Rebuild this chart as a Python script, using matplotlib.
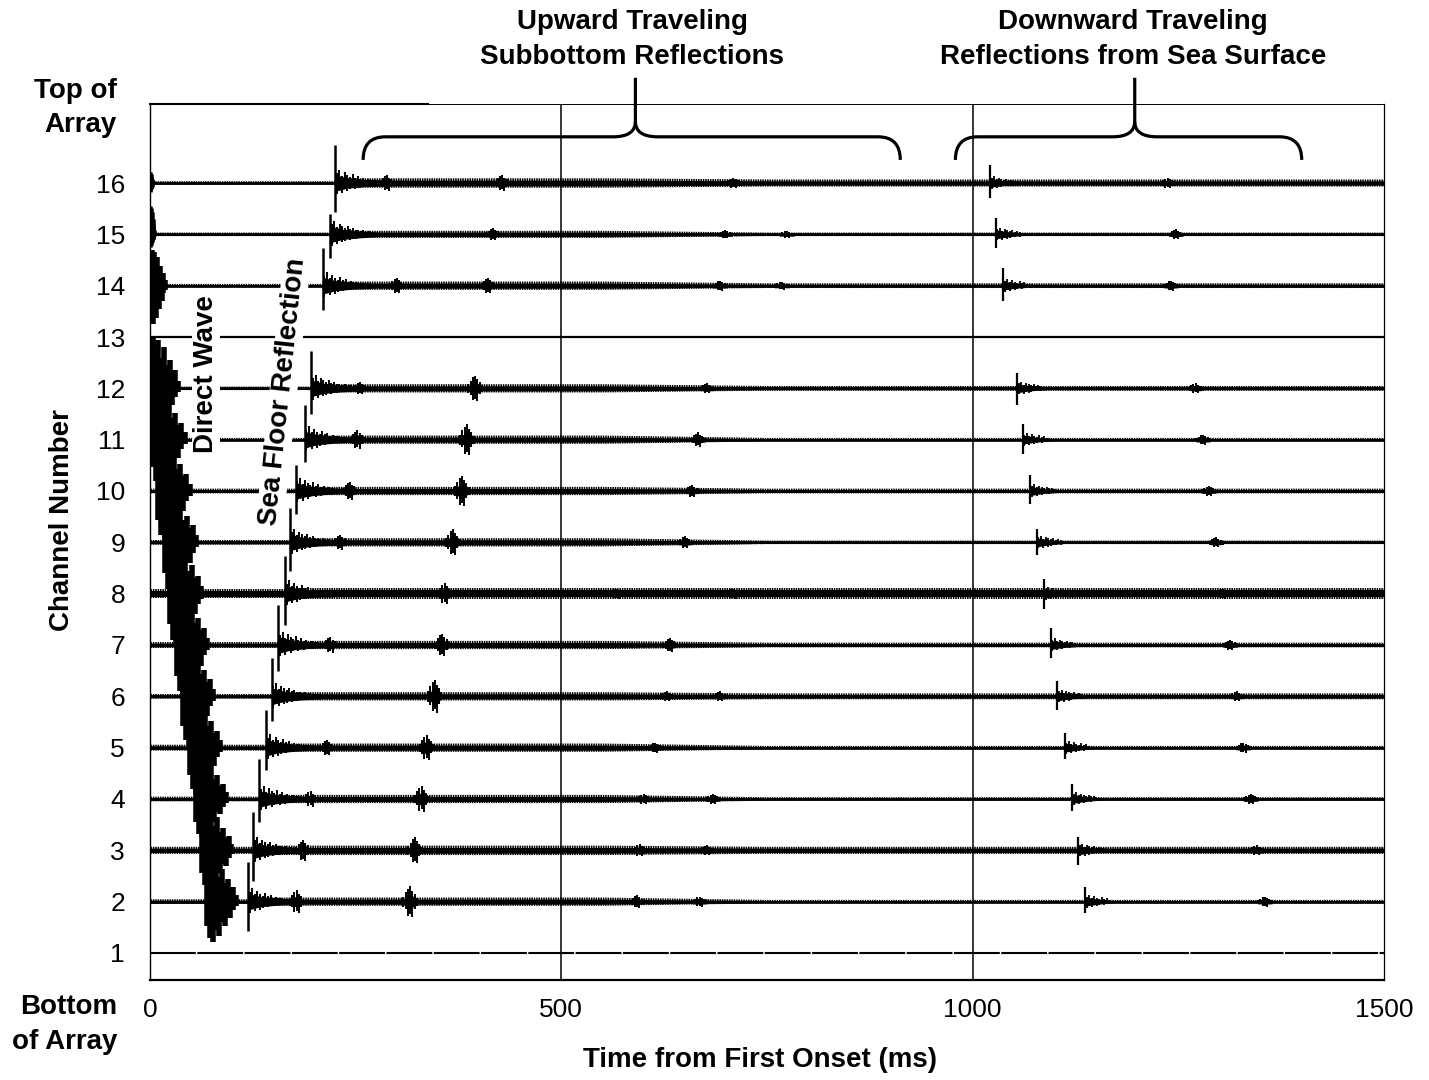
import matplotlib
matplotlib.use("Agg")
import matplotlib.pyplot as plt
from matplotlib.path import Path
from matplotlib.patches import PathPatch

plt.rcParams['font.family'] = ['Liberation Sans', 'DejaVu Sans']
plt.rcParams['hatch.linewidth'] = 1.1

# channels with signal, top to bottom; 13 and 1 are dead
channels = [16, 15, 14, 12, 11, 10, 9, 8, 7, 6, 5, 4, 3, 2]
dead_channels = [13, 1]

# direct wave (ms, channel units)
direct_on = [0, 0, 0, 0, 4, 10, 18, 24, 33, 40, 49, 56, 63, 69]
direct_len = [4, 6, 18, 34, 38, 38, 38, 38, 36, 36, 36, 36, 36, 36]
direct_up = [0.22, 0.55, 0.7, 1.0, 0.95, 0.95, 0.95, 1.0, 0.95, 0.95, 0.95, 0.85, 0.8, 0.8]
direct_down = [0.18, 0.25, 0.75, 0.8, 0.9, 0.95, 1.0, 1.0, 1.0, 0.95, 0.9, 0.75, 0.75, 0.78]

# sea floor reflection
floor_t = [225, 219, 210, 196, 188, 177, 170, 164, 156, 148, 141, 133, 125, 119]
floor_up = [0.74, 0.4, 0.74, 0.72, 0.68, 0.5, 0.66, 0.74, 0.78, 0.74, 0.74, 0.78, 0.74, 0.78]
floor_down = [0.57, 0.47, 0.47, 0.5, 0.43, 0.45, 0.56, 0.62, 0.51, 0.49, 0.43, 0.45, 0.6, 0.58]

# sea surface (downward) reflection
surface_t = [1021, 1028, 1037, 1054, 1061, 1070, 1078, 1087, 1095, 1103, 1112, 1121, 1128, 1137]
surface_up = [0.35, 0.32, 0.34, 0.3, 0.3, 0.31, 0.25, 0.29, 0.33, 0.29, 0.29, 0.29, 0.26, 0.29]
surface_down = [0.3, 0.27, 0.3, 0.33, 0.27, 0.25, 0.24, 0.29, 0.25, 0.27, 0.23, 0.23, 0.29, 0.23]

# subbottom bursts per channel
burst_t = [[288, 428, 709], [417, 699, 774], [300, 411, 693, 768], [255, 395, 677],
           [252, 385, 666], [243, 379, 659], [231, 368, 650], [358, 567, 709],
           [219, 355, 632], [346, 628, 693], [215, 336, 614], [195, 330, 600, 684],
           [186, 322, 595, 677], [178, 316, 592, 668]]
burst_a = [[0.15, 0.15, 0.1], [0.12, 0.08, 0.07], [0.15, 0.15, 0.1, 0.08], [0.12, 0.25, 0.1],
           [0.18, 0.3, 0.14], [0.18, 0.3, 0.12], [0.15, 0.25, 0.12], [0.2, 0.1, 0.1],
           [0.15, 0.22, 0.14], [0.32, 0.1, 0.1], [0.15, 0.25, 0.1], [0.15, 0.25, 0.1, 0.1],
           [0.2, 0.25, 0.12, 0.1], [0.22, 0.3, 0.12, 0.1]]
echo_t = [1237, 1247, 1241, 1271, 1280, 1287, 1296, 1304, 1313, 1321, 1329, 1338, 1345, 1355]

# noise half-width (channel units)
noise_pre = [0.03, 0.03, 0.03, 0.03, 0.03, 0.04, 0.04, 0.08, 0.05, 0.04, 0.05, 0.04, 0.06, 0.04]
noise_mid = [0.08, 0.06, 0.07, 0.07, 0.07, 0.07, 0.07, 0.09, 0.07, 0.07, 0.07, 0.07, 0.08, 0.07]
noise_late = [0.06, 0.03, 0.04, 0.04, 0.03, 0.04, 0.03, 0.09, 0.04, 0.05, 0.03, 0.03, 0.06, 0.03]

# wiggle shapes (relative heights of strokes)
direct_up_shape = [0.85, 1.0, 0.75, 0.95, 0.6, 0.8, 0.45, 0.55, 0.3, 0.35, 0.15]
direct_down_shape = [0.6, 0.9, 1.0, 0.7, 0.85, 0.5, 0.6, 0.35, 0.4, 0.2, 0.1]
coda_up = [0.75, 1.0, 0.55, 0.8, 0.6, 0.45, 0.65, 0.4, 0.5, 0.3, 0.35, 0.25, 0.3, 0.2, 0.22, 0.15]
coda_down = [1.0, 0.6, 0.85, 0.5, 0.7, 0.55, 0.35, 0.5, 0.3, 0.4, 0.25, 0.3, 0.18, 0.22, 0.15, 0.12]
burst_up = [0.3, 0.6, 0.85, 1.0, 0.7, 0.5, 0.25]
burst_down = [0.35, 0.5, 0.9, 0.8, 1.0, 0.45, 0.25]

fig = plt.figure(figsize=(14.29, 10.8), dpi=100)
ax = fig.add_axes([0.105, 0.0926, 0.8635, 0.8111])
ax.set_xlim(0, 1500)
ax.set_ylim(0.474, 17.539)

ax.axvline(500, color='black', lw=1.1, zorder=1)
ax.axvline(1000, color='black', lw=1.1, zorder=1)


def band(x, h, y, scale=1.0, **kw):
    ax.fill_between(x, [y - v * scale for v in h], [y + v * scale for v in h], linewidth=0, **kw)


def strokes(t0, step, up, down, ch, amp_up, amp_down, lw):
    xs = [t0 + k * step for k in range(len(up))]
    ax.vlines(xs, [ch - amp_down * d for d in down], [ch + amp_up * u for u in up],
              color='black', lw=lw, zorder=3)


for i, ch in enumerate(channels):
    ax.hlines(ch, 0, 1500, color='black', lw=1.8, zorder=2)
    # background noise
    nx = [0, floor_t[i], floor_t[i], 550, 750, 1500]
    nh = [noise_pre[i], noise_pre[i], noise_mid[i], noise_mid[i], noise_late[i], noise_late[i]]
    band(nx, nh, ch, scale=1.15, facecolor='none', edgecolor='black', hatch='|||||||', zorder=2)
    band(nx, nh, ch, scale=0.7, color='black', zorder=2)
    # direct wave
    step = direct_len[i] / (len(direct_up_shape) - 1)
    strokes(direct_on[i], step, direct_up_shape, direct_down_shape, ch,
            direct_up[i], direct_down[i], 4.0 if direct_len[i] > 10 else 1.8)
    # sea floor reflection
    t = floor_t[i]
    ax.vlines(t, ch - floor_down[i], ch + floor_up[i], color='black', lw=1.8, zorder=3)
    strokes(t + 2, 3.2, coda_up, coda_down, ch, 0.26, 0.22, 1.4)
    band([t, t + 3, t + 15, t + 35, t + 60], [0.17, 0.15, 0.1, 0.07, noise_mid[i] * 0.7], ch,
         color='black', zorder=3)
    # sea surface reflection
    t = surface_t[i]
    ax.vlines(t, ch - surface_down[i], ch + surface_up[i], color='black', lw=1.6, zorder=3)
    strokes(t + 2, 3.0, coda_up[:10], coda_down[:10], ch, 0.13, 0.12, 1.3)
    band([t, t + 3, t + 15, t + 35], [0.09, 0.08, 0.05, noise_late[i] * 0.7], ch,
         color='black', zorder=3)
    # bursts
    for bt, ba in zip(burst_t[i] + [echo_t[i]], burst_a[i] + [0.1]):
        strokes(bt - 8, 2.7, burst_up, burst_down, ch, ba, ba, 1.4)
        band([bt - 9, bt, bt + 9], [noise_mid[i] * 0.6, ba * 0.5, noise_mid[i] * 0.6], ch,
             color='black', zorder=3)

ax.hlines(dead_channels[0], 0, 1500, color='black', lw=1.6, zorder=2)
ax.hlines(dead_channels[1], 0, 1500, color='black', lw=1.5, linestyles=(0, (22, 0.7)), zorder=2)

# in-plot labels
txt_kw = dict(fontsize=20, fontweight='bold', ha='center', va='center', zorder=5,
              bbox=dict(facecolor='white', edgecolor='none', pad=0.5))
ax.text(68, 12.28, 'Direct Wave', rotation=90, **txt_kw)
ax.text(162, 11.93, 'Sea Floor Reflection', rotation=84, **txt_kw)


def brace(x0, x1, xc, y_end=16.45, y_bar=16.9, y_cusp=17.2, y_top=18.05, rx=27):
    left = Path([(x0, y_end), (x0, y_bar), (x0 + rx, y_bar), (xc - rx, y_bar),
                 (xc, y_bar), (xc, y_cusp), (xc, y_top)],
                [Path.MOVETO, Path.CURVE3, Path.CURVE3, Path.LINETO,
                 Path.CURVE3, Path.CURVE3, Path.LINETO])
    right = Path([(x1, y_end), (x1, y_bar), (x1 - rx, y_bar), (xc + rx, y_bar),
                  (xc, y_bar), (xc, y_cusp)],
                 [Path.MOVETO, Path.CURVE3, Path.CURVE3, Path.LINETO,
                  Path.CURVE3, Path.CURVE3])
    for p in (left, right):
        ax.add_patch(PathPatch(p, facecolor='none', edgecolor='black', lw=2.3,
                               clip_on=False, capstyle='butt', zorder=6))


brace(259, 912, 590)
brace(979, 1400, 1197)

head_kw = dict(fontsize=20, fontweight='bold', ha='center', va='center', linespacing=1.45)
ax.text(586, 18.8, 'Upward Traveling\nSubbottom Reflections', clip_on=False, **head_kw)
ax.text(1195, 18.8, 'Downward Traveling\nReflections from Sea Surface', clip_on=False, **head_kw)

# axes styling
ax.set_xticks([0, 500, 1000, 1500])
ax.set_yticks(range(1, 17))
ax.tick_params(axis='both', length=0, labelsize=19)
ax.tick_params(axis='y', pad=18)
ax.tick_params(axis='x', pad=13)
ax.spines['left'].set_linewidth(1.0)
ax.spines['right'].set_linewidth(0.9)
ax.spines['top'].set_linewidth(0.7)
ax.spines['bottom'].set_linewidth(1.6)
ax.plot([0, 338], [17.539, 17.539], color='black', lw=1.5, clip_on=False, zorder=6)

fig.text(0.0819, 0.9, 'Top of\nArray', fontsize=20, fontweight='bold',
         ha='right', va='center', multialignment='right', linespacing=1.45)
fig.text(0.0819, 0.051, 'Bottom\nof Array', fontsize=20, fontweight='bold',
         ha='right', va='center', multialignment='right', linespacing=1.45)
fig.text(0.0434, 0.5185, 'Channel Number', fontsize=20, fontweight='bold',
         rotation=90, ha='center', va='center')
fig.text(0.532, 0.0185, 'Time from First Onset (ms)', fontsize=20, fontweight='bold',
         ha='center', va='center')

fig.savefig('out.png', dpi=100)
